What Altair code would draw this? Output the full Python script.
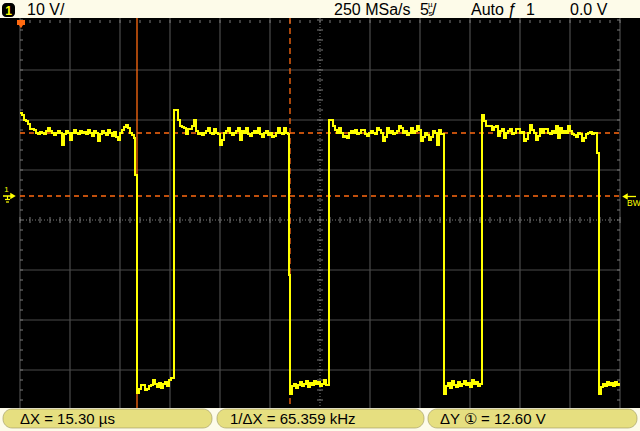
import altair as alt
import pandas as pd

# ---------------- data ----------------
# Timebase 5 us/div, channel 1 at 10 V/div.  Time in us from the left graticule edge.
SAMPLE_US = 0.2

seg_start = [0.0, 11.5, 11.7, 15.4, 26.9, 27.0, 30.9, 42.4, 46.2, 57.7, 57.9]

high0 = [16.6, 16.2, 15.2, 15.0, 14.4, 13.4, 13.4, 13.2, 12.6, 12.4,
         12.8, 12.6, 12.4, 13.0, 13.6, 13.0, 12.6, 12.2, 12.6, 13.0,
         12.6, 10.2, 12.4, 13.0, 12.6, 11.2, 12.6, 13.2, 12.6, 12.4,
         13.0, 12.6, 12.8, 12.4, 13.2, 12.6, 12.0, 13.0, 12.6, 11.0,
         12.4, 13.0, 12.6, 12.2, 13.2, 12.6, 12.0, 12.8, 11.8, 11.2,
         12.6, 13.2, 13.8, 14.2, 13.6, 12.6, 12.2, 11.6]
edge0 = [4.2]
low1 = [-39.4, -38.6, -37.8, -37.8, -38.8, -38.6, -38.0, -37.8, -36.8, -37.6,
        -38.2, -37.4, -38.4, -37.6, -37.2, -38.0, -36.8, -36.4]
high1 = [17.2, 17.2, 15.2, 14.0, 13.8, 13.6, 12.4, 13.4, 13.4, 14.0,
         15.2, 13.0, 12.4, 12.6, 12.2, 12.6, 13.0, 13.6, 12.6, 12.4,
         13.4, 12.6, 12.4, 10.2, 11.2, 12.6, 13.0, 13.6, 12.6, 12.2,
         12.6, 13.0, 13.6, 11.2, 13.0, 12.6, 13.6, 12.4, 12.0, 12.6,
         13.0, 12.6, 13.6, 12.4, 11.8, 12.6, 13.0, 12.2, 12.6, 11.8,
         12.0, 12.6, 13.6, 12.6, 12.4, 13.6, 12.6, 12.4]
edge1 = [-15.8]
low2 = [-39.6, -38.0, -37.6, -38.4, -37.8, -37.2, -38.0, -37.6, -37.0, -38.2,
        -37.4, -37.8, -37.0, -37.6, -37.2, -38.0, -37.6, -36.8, -37.8]
high2 = [15.2, 15.2, 14.0, 13.2, 12.6, 13.6, 12.6, 11.8, 12.0, 11.6,
         12.6, 13.0, 12.6, 13.2, 12.4, 12.6, 13.2, 13.2, 12.4, 12.0,
         12.6, 13.0, 12.6, 12.4, 13.6, 13.2, 12.6, 11.0, 11.8, 13.6,
         12.6, 13.0, 12.4, 12.6, 13.0, 14.0, 13.6, 12.6, 13.0, 12.2,
         12.6, 13.6, 12.6, 13.0, 14.0, 13.2, 11.0, 11.8, 12.6, 12.2,
         11.2, 11.8, 13.0, 12.6, 10.2, 13.2, 12.4]
low3 = [-39.6, -38.0, -37.4, -38.4, -37.0, -37.8, -38.2, -37.2, -38.0, -37.6,
        -37.0, -37.8, -37.4, -38.2, -36.8, -37.6, -37.2, -38.0, -37.6]
high3 = [16.2, 15.0, 14.0, 14.0, 14.0, 13.2, 13.8, 14.0, 12.0, 13.0,
         13.4, 11.6, 12.6, 13.0, 13.4, 12.4, 12.6, 13.4, 13.4, 12.6,
         12.8, 11.0, 11.4, 12.6, 14.2, 13.2, 12.6, 11.2, 12.0, 13.4,
         12.6, 13.4, 13.4, 12.6, 12.4, 13.0, 12.6, 14.0, 11.6, 13.6,
         12.6, 13.0, 12.6, 14.0, 13.0, 12.4, 12.2, 11.8, 12.6, 12.4,
         11.0, 11.6, 12.4, 12.6, 12.8, 12.4, 12.6]
edge3 = [8.6]
low4 = [-39.6, -38.2, -37.6, -38.0, -37.2, -37.8, -37.4, -38.0, -37.2, -37.8, -37.6]

segments = [high0, edge0, low1, high1, edge1, low2, high2, low3, high3, edge3, low4]

# cursors (from the readouts): X1, X2 in us ; Y1, Y2 in volts
cursor_x = [11.7, 27.0]
cursor_y = [12.6, 0.0]

# graticule
x_major = [5, 10, 15, 20, 25, 35, 40, 45, 50, 55]
x_center = [30]
y_major = [25.2, 15.2, 5.2, -14.8, -24.8, -34.8]
y_center = [-4.8]
x_minor = list(range(0, 61))                       # every 1 us (1/5 div)
y_minor = [35.2 - 2 * k for k in range(0, 39)]     # every 2 V (1/5 div)

# readouts
top_texts = ["10 V/", "250 MSa/s", "5", "Auto", "ƒ", "1", "0.0 V"]
bottom_texts = ["ΔX = 15.30 µs", "1/ΔX = 65.359 kHz", "ΔY ① = 12.60 V"]

# ---------------- build ----------------
rows = []
for start, vals in zip(seg_start, segments):
    for i, v in enumerate(vals):
        rows.append({"t": round(start + SAMPLE_US * i, 3), "v": v})
rows.append({"t": 60.0, "v": low4[-1]})
trace = pd.DataFrame(rows)

W, H = 640, 431
XS = alt.Scale(domain=[-2, 62], nice=False, zero=False)
YS = alt.Scale(domain=[-47, 39.2], nice=False, zero=False)
one = alt.Data(values=[{"a": 1}])

GRID = "#4b4b4b"
DOT = "#7a7a7a"
ORANGE = "#ff6a10"
YEL = "#ffff00"
CREAM = "#fdfbe9"
PILL = "#e6df80"
FONT = "Liberation Sans"


def prect(x, x2, y, y2, **kw):
    return alt.Chart(one).mark_rect(**kw).encode(
        x=alt.value(x), x2=alt.value(x2), y=alt.value(y), y2=alt.value(y2))


def ptext(txt, x, y, size=16, color="black", align="left", **kw):
    return alt.Chart(one).mark_text(text=txt, align=align, baseline="middle",
                                    font=FONT, fontSize=size, color=color, **kw).encode(
        x=alt.value(x), y=alt.value(y))


def prule(x, x2, y, y2, color, w=1, **kw):
    return alt.Chart(one).mark_rule(color=color, strokeWidth=w, **kw).encode(
        x=alt.value(x), x2=alt.value(x2), y=alt.value(y), y2=alt.value(y2))


layers = []
# black screen
layers.append(prect(0, 640, 18, 408, color="black"))

# major graticule lines
layers.append(alt.Chart(pd.DataFrame({"t": x_major})).mark_rule(
    color=GRID, strokeWidth=1.2).encode(
    x=alt.X("t:Q", scale=XS, axis=None), y=alt.value(18), y2=alt.value(408)))
layers.append(alt.Chart(pd.DataFrame({"v": y_major})).mark_rule(
    color=GRID, strokeWidth=1.2).encode(
    y=alt.Y("v:Q", scale=YS, axis=None), x=alt.value(20), x2=alt.value(620)))
# edges
layers.append(alt.Chart(pd.DataFrame({"t": [0, 60]})).mark_rule(
    color=GRID, strokeWidth=1.2).encode(
    x=alt.X("t:Q", scale=XS, axis=None), y=alt.value(18), y2=alt.value(408)))
# centre dotted axes
layers.append(alt.Chart(pd.DataFrame({"t": x_center})).mark_rule(
    color=DOT, strokeWidth=1, strokeDash=[1, 2]).encode(
    x=alt.X("t:Q", scale=XS, axis=None), y=alt.value(18), y2=alt.value(408)))
layers.append(alt.Chart(pd.DataFrame({"v": y_center})).mark_rule(
    color=DOT, strokeWidth=1, strokeDash=[1, 2]).encode(
    y=alt.Y("v:Q", scale=YS, axis=None), x=alt.value(20), x2=alt.value(620)))
# minor ticks on centre axes and edges
dfxm = pd.DataFrame({"t": x_minor})
dfym = pd.DataFrame({"v": y_minor})
for (ya, yb) in [(217, 223), (20, 23)]:
    layers.append(alt.Chart(dfxm).mark_rule(color=DOT, strokeWidth=1).encode(
        x=alt.X("t:Q", scale=XS, axis=None), y=alt.value(ya), y2=alt.value(yb)))
for (xa, xb) in [(317, 323), (20, 23), (617, 620)]:
    layers.append(alt.Chart(dfym).mark_rule(color=DOT, strokeWidth=1).encode(
        y=alt.Y("v:Q", scale=YS, axis=None), x=alt.value(xa), x2=alt.value(xb)))

# cursors
layers.append(alt.Chart(pd.DataFrame({"v": cursor_y})).mark_rule(
    color=ORANGE, strokeWidth=1.3, strokeDash=[5, 4]).encode(
    y=alt.Y("v:Q", scale=YS, axis=None), x=alt.value(20), x2=alt.value(620)))
layers.append(alt.Chart(pd.DataFrame({"t": cursor_x[:1]})).mark_rule(
    color=ORANGE, strokeWidth=1.3).encode(
    x=alt.X("t:Q", scale=XS, axis=None), y=alt.value(18), y2=alt.value(408)))
layers.append(alt.Chart(pd.DataFrame({"t": cursor_x[1:]})).mark_rule(
    color=ORANGE, strokeWidth=1.3, strokeDash=[6, 4]).encode(
    x=alt.X("t:Q", scale=XS, axis=None), y=alt.value(18), y2=alt.value(408)))

# signal trace
layers.append(alt.Chart(trace).mark_line(
    color=YEL, strokeWidth=2, interpolate="step-after").encode(
    x=alt.X("t:Q", scale=XS, axis=None), y=alt.Y("v:Q", scale=YS, axis=None)))

# ground marker (left) and BW marker (right)
layers.append(prule(3, 12, 196, 196, YEL, 1.5))
layers.append(prule(5, 10, 199.5, 199.5, YEL, 1.2))
layers.append(prule(6, 9, 202, 202, YEL, 1.2))
layers.append(prule(7.5, 7.5, 196, 199.5, YEL, 1.2))
layers.append(alt.Chart(one).mark_point(shape="triangle-right", filled=True, color=YEL,
                                        size=40, opacity=1).encode(
    x=alt.value(13), y=alt.value(196)))
layers.append(ptext("1", 6.5, 190, size=8, color=YEL, align="center"))
layers.append(alt.Chart(one).mark_point(shape="triangle-left", filled=True, color=YEL,
                                        size=40, opacity=1).encode(
    x=alt.value(625), y=alt.value(196.5)))
layers.append(prule(625, 636, 196.5, 196.5, YEL, 1.3))
layers.append(ptext("BW", 627, 202.5, size=8.5, color=YEL))

# trigger position marker (top)
layers.append(prect(17, 25, 20, 25, color=ORANGE))
layers.append(alt.Chart(one).mark_point(shape="triangle-down", filled=True, color=ORANGE,
                                        size=30, opacity=1).encode(
    x=alt.value(21), y=alt.value(26)))

# top bar
layers.append(prect(0, 640, 0, 17, color=CREAM))
layers.append(prect(2, 15, 3, 17, color="black", cornerRadius=4))
layers.append(ptext("1", 8.5, 10.5, size=12, color=YEL, align="center", fontWeight="bold"))
layers.append(ptext(top_texts[0], 27, 10, size=16))
layers.append(ptext(top_texts[1], 334, 10, size=16))
layers.append(ptext(top_texts[2], 420, 10, size=16))
layers.append(ptext("µ", 428, 5, size=8))
layers.append(ptext("s", 428.5, 13.5, size=8))
layers.append(ptext("/", 432, 10, size=16))
layers.append(ptext(top_texts[3], 471, 10, size=16))
layers.append(ptext(top_texts[4], 508, 10, size=16))
layers.append(ptext(top_texts[5], 526, 10, size=16))
layers.append(ptext(top_texts[6], 570, 10, size=16))

# bottom readout pills
for (xa, xb), txt, tx in zip([(3, 212), (217, 424), (428, 637)], bottom_texts, [20, 230, 440]):
    layers.append(prect(xa, xb, 409, 428, color=PILL, cornerRadius=9, stroke="#9a9660",
                        strokeWidth=0.6))
    layers.append(ptext(txt, tx, 418.5, size=15))

chart = alt.layer(*layers).properties(
    width=W, height=H, padding=0,
    autosize=alt.AutoSizeParams(type="none"),
    background=CREAM,
).configure_view(stroke=None)

chart.save("out.html", embed_options={"renderer": "svg", "actions": False})
